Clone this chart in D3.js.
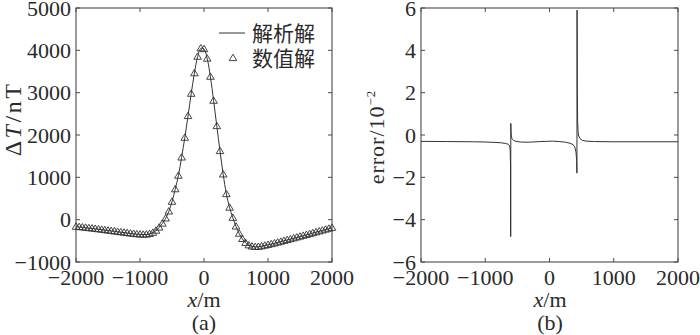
<!DOCTYPE html>
<html>
<head>
<meta charset="utf-8">
<script src="https://cdn.jsdelivr.net/npm/d3@7/dist/d3.min.js"></script>
<style>
  html, body { margin: 0; padding: 0; background: #fff; }
  svg { display: block; }
</style>
</head>
<body>
<svg id="chart" width="700" height="335"></svg>
<script>
// ---------------- DATA ----------------
// Panel (a): profile positions (m)
const xPositions = [
  -2000,-1950,-1900,-1850,-1800,-1750,-1700,-1650,-1600,-1550,
  -1500,-1450,-1400,-1350,-1300,-1250,-1200,-1150,-1100,-1050,
  -1000,-950,-900,-850,-800,-750,-700,-650,-600,-550,
  -500,-450,-400,-350,-300,-250,-200,-150,-100,-50,
  0,50,100,150,200,250,300,350,400,450,
  500,550,600,650,700,750,800,850,900,950,
  1000,1050,1100,1150,1200,1250,1300,1350,1400,1450,
  1500,1550,1600,1650,1700,1750,1800,1850,1900,1950,
  2000
];
// Panel (a): analytic solution ΔT (nT)
const analyticDT = [
  -165,-172,-180,-189,-198,-206,-215,-225,-235,-245,
  -255,-265,-275,-285,-295,-305,-315,-325,-334,-342,
  -348,-352,-350,-337,-308,-258,-185,-92,30,195,
  425,720,1040,1470,1936,2449,2975,3460,3850,4048,
  4030,3805,3377,2810,2212,1622,1070,605,285,45,
  -160,-330,-455,-548,-605,-632,-643,-640,-628,-612,
  -595,-577,-558,-539,-519,-499,-479,-459,-439,-419,
  -399,-379,-358,-338,-317,-296,-275,-254,-233,-212,
  -191
];
// Panel (a): numerical solution ΔT (nT) — visually identical to the analytic one
const numericDT = [
  -165,-172,-180,-189,-198,-206,-215,-225,-235,-245,
  -255,-265,-275,-285,-295,-305,-315,-325,-334,-342,
  -348,-352,-350,-337,-308,-258,-185,-92,30,195,
  425,720,1040,1470,1936,2449,2975,3460,3850,4048,
  4030,3805,3377,2810,2212,1622,1070,605,285,45,
  -160,-330,-455,-548,-605,-632,-643,-640,-628,-612,
  -595,-577,-558,-539,-519,-499,-479,-459,-439,-419,
  -399,-379,-358,-338,-317,-296,-275,-254,-233,-212,
  -191
];
// Panel (b): error curve (x in m, error in 10^-2)
const errX = [
  -2000,-1600,-1200,-1000,-850,-750,-680,-640,-620,-612,-606,-604,
  -602,-598,-592,-580,-560,-520,-450,-350,-250,-150,-50,50,150,250,
  320,370,395,412,422,427,429,433,438,445,455,475,510,570,700,1000,1500,2000
];
const errY = [
  -0.30,-0.31,-0.32,-0.33,-0.35,-0.37,-0.40,-0.44,-0.52,-0.70,-1.5,-4.8,
  0.55,0.10,-0.10,-0.20,-0.26,-0.30,-0.33,-0.34,-0.33,-0.31,-0.30,-0.29,-0.31,-0.34,
  -0.39,-0.46,-0.58,-0.80,-1.2,-1.8,5.9,2.0,0.6,0.15,-0.05,-0.17,-0.25,-0.29,-0.31,-0.32,-0.32,-0.32
];
// Tick values
const xTicks = [-2000,-1000,0,1000,2000];
const yTicksA = [-1000,0,1000,2000,3000,4000,5000];
const yTicksB = [-6,-4,-2,0,2,4,6];
const legendLabels = ["解析解","数值解"];
const panelLabels = ["(a)","(b)"];

// ---------------- DRAW ----------------
const SERIF = "'Liberation Serif', 'Times New Roman', Times, serif";
const CJK = "'Noto Sans CJK SC', 'Noto Sans CJK JP', sans-serif";
const textColor = "#2a2a2a";
const svg = d3.select("#chart");
const axisColor = "#4a4a4a";
const tickLen = 4;

function serifText(g, size) {
  return g.append("text").attr("font-family", SERIF).attr("font-size", size).attr("fill", textColor);
}

function drawFrame(g, xs, ys, xt, yt, fmtY) {
  const [x0, x1] = xs.range();
  const [y1, y0] = ys.range();
  g.append("rect").attr("x", x0).attr("y", y0).attr("width", x1 - x0).attr("height", y1 - y0)
    .attr("fill", "none").attr("stroke", axisColor).attr("stroke-width", 1.1);
  xt.forEach(v => {
    const x = xs(v);
    g.append("line").attr("x1", x).attr("x2", x).attr("y1", y1).attr("y2", y1 - tickLen).attr("stroke", axisColor);
    g.append("line").attr("x1", x).attr("x2", x).attr("y1", y0).attr("y2", y0 + tickLen).attr("stroke", axisColor);
    serifText(g, 22).attr("x", x).attr("y", y1 + 23)
      .attr("text-anchor", "middle").text(d3.format("d")(v));
  });
  yt.forEach(v => {
    const y = ys(v);
    g.append("line").attr("x1", x0).attr("x2", x0 + tickLen).attr("y1", y).attr("y2", y).attr("stroke", axisColor);
    g.append("line").attr("x1", x1).attr("x2", x1 - tickLen).attr("y1", y).attr("y2", y).attr("stroke", axisColor);
    serifText(g, 22).attr("x", x0 - 5).attr("y", y + 7.5)
      .attr("text-anchor", "end").text(fmtY(v));
  });
}

// ----- Panel (a)
const xA = d3.scaleLinear().domain([-2000, 2000]).range([76, 332]);
const yA = d3.scaleLinear().domain([-1000, 5000]).range([262, 8]);
const gA = svg.append("g");
drawFrame(gA, xA, yA, xTicks, yTicksA, d3.format("d"));

const lineA = d3.line().x((d, i) => xA(xPositions[i])).y(d => yA(d)).curve(d3.curveCatmullRom);
gA.append("path").datum(analyticDT).attr("d", lineA)
  .attr("fill", "none").attr("stroke", "#333").attr("stroke-width", 1);

const triPath = "M0,-3.8L3.8,2.6L-3.8,2.6Z";
gA.selectAll("path.tri").data(numericDT).join("path").attr("class", "tri")
  .attr("d", triPath)
  .attr("transform", (d, i) => `translate(${xA(xPositions[i])},${yA(d)})`)
  .attr("fill", "none").attr("stroke", "#333").attr("stroke-width", 0.9);

// legend
gA.append("line").attr("x1", 219).attr("x2", 245).attr("y1", 33).attr("y2", 33)
  .attr("stroke", "#333").attr("stroke-width", 1);
gA.append("path").attr("d", triPath).attr("transform", "translate(233,58)")
  .attr("fill", "none").attr("stroke", "#333").attr("stroke-width", 0.9);
legendLabels.forEach((t, i) => {
  gA.append("text").attr("font-family", CJK).attr("font-size", 21).attr("fill", textColor)
    .attr("x", 252).attr("y", 33 + i * 25 + 7.5).text(t);
});

// axis labels
const ylabA = serifText(gA, 24).attr("transform", "translate(21,119) rotate(-90)")
  .attr("text-anchor", "middle").attr("letter-spacing", 2.5);
ylabA.append("tspan").text("Δ");
ylabA.append("tspan").attr("font-style", "italic").text("T");
ylabA.append("tspan").text("/nT");

const xlabA = serifText(gA, 22).attr("x", 204).attr("y", 307).attr("text-anchor", "middle");
xlabA.append("tspan").attr("font-style", "italic").text("x");
xlabA.append("tspan").text("/m");
serifText(gA, 22).attr("x", 204).attr("y", 330).attr("text-anchor", "middle").text(panelLabels[0]);

// ----- Panel (b)
const xB = d3.scaleLinear().domain([-2000, 2000]).range([421, 678]);
const yB = d3.scaleLinear().domain([-6, 6]).range([262, 8]);
const gB = svg.append("g");
drawFrame(gB, xB, yB, xTicks, yTicksB, d3.format("d"));

const lineB = d3.line().x((d, i) => xB(errX[i])).y(d => yB(d));
gB.append("path").datum(errY).attr("d", lineB)
  .attr("fill", "none").attr("stroke", "#333").attr("stroke-width", 1);

const ylabB = serifText(gB, 22).attr("transform", "translate(384,137) rotate(-90)")
  .attr("text-anchor", "middle").attr("letter-spacing", 1);
ylabB.append("tspan").text("error/10");
ylabB.append("tspan").attr("font-size", 13).attr("dy", -9).text("−2");

const xlabB = serifText(gB, 22).attr("x", 550).attr("y", 307).attr("text-anchor", "middle");
xlabB.append("tspan").attr("font-style", "italic").text("x");
xlabB.append("tspan").text("/m");
serifText(gB, 22).attr("x", 550).attr("y", 330).attr("text-anchor", "middle").text(panelLabels[1]);
</script>
</body>
</html>
